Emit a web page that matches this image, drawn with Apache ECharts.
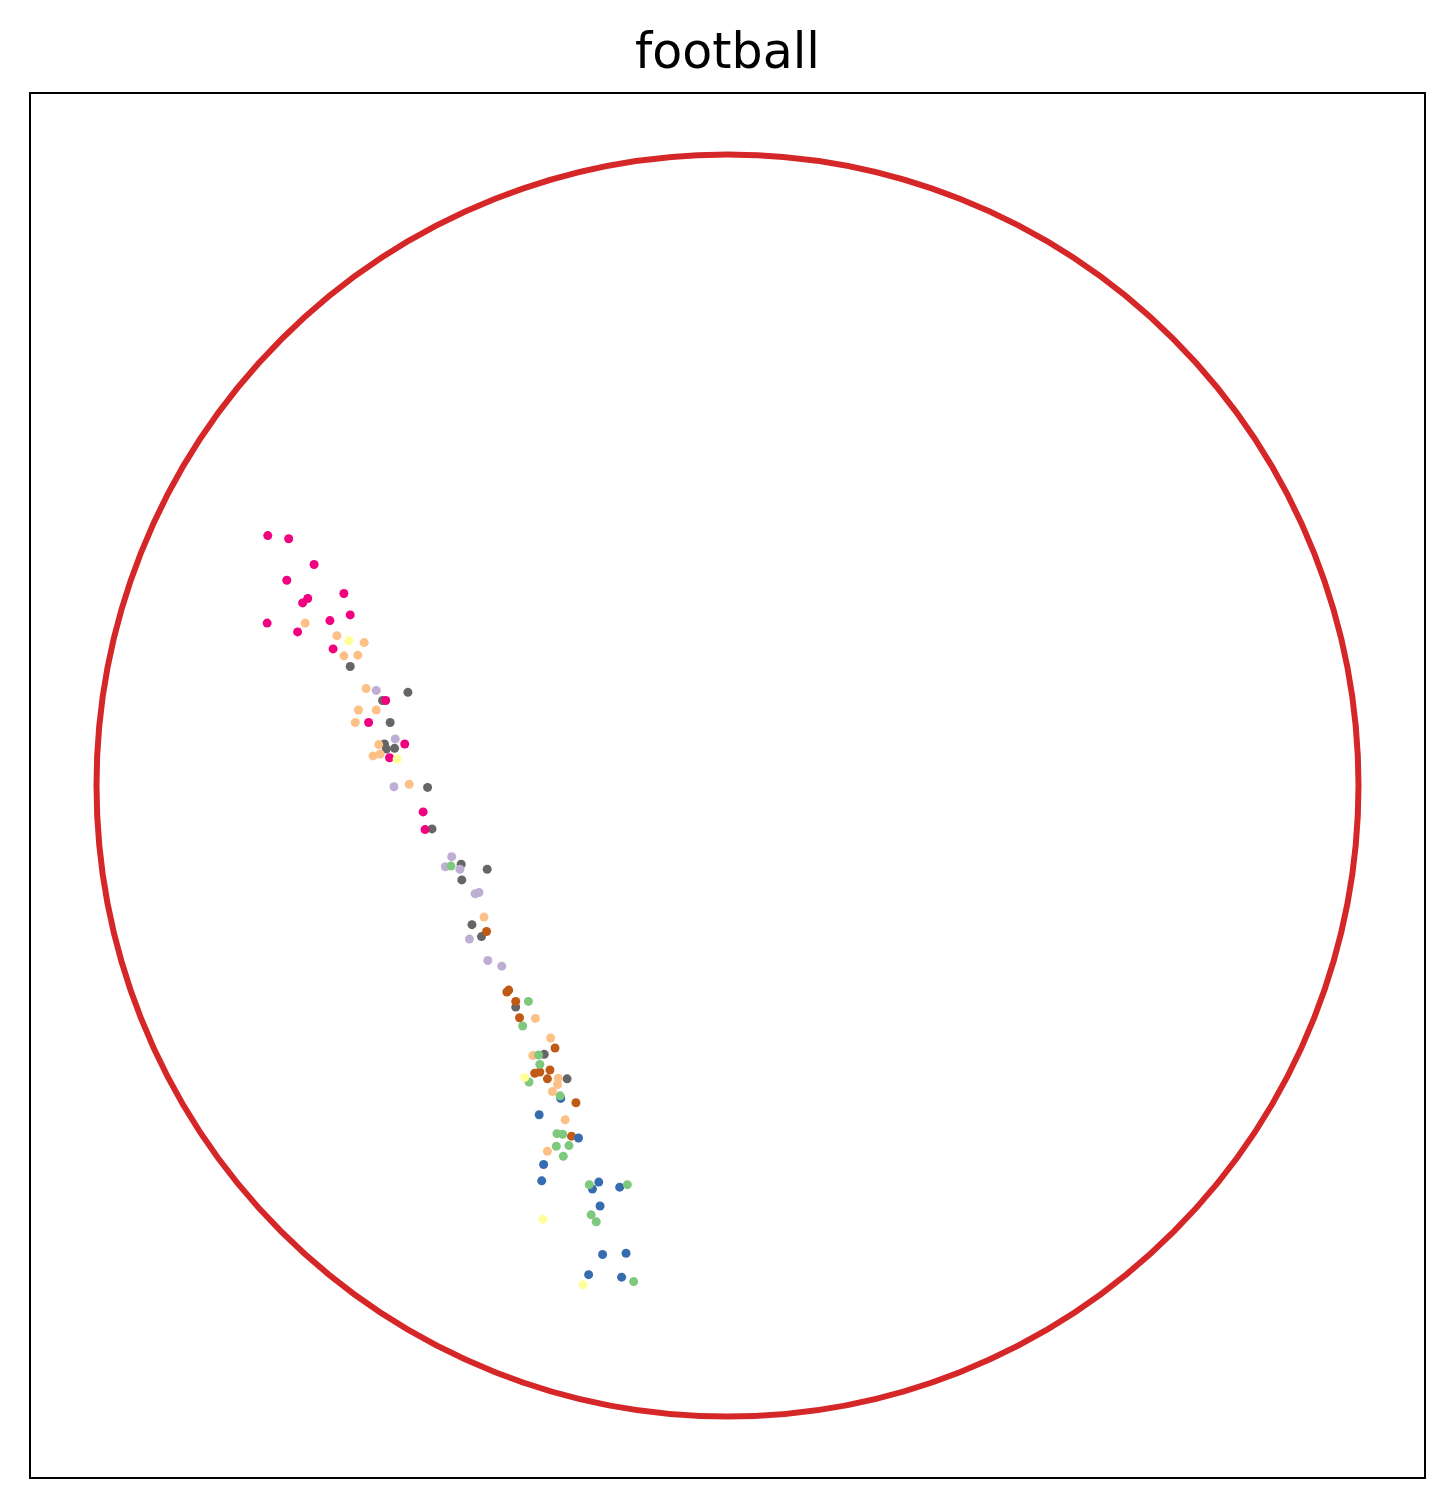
<!DOCTYPE html>
<html>
<head>
<meta charset="utf-8">
<title>football</title>
<script src="https://cdn.jsdelivr.net/npm/echarts@6/dist/echarts.min.js"></script>
<style>
  html, body { margin: 0; padding: 0; background: #fff; }
  #chart { width: 1455px; height: 1509px; }
</style>
</head>
<body>
<div id="chart"></div>
<script>
// node positions inside the unit disk, one list per community
var grayPts = [
  [-0.595, 0.189], [-0.504, 0.148], [-0.544, 0.135], [-0.532, 0.100], [-0.541, 0.066],
  [-0.538, 0.058], [-0.525, 0.059], [-0.473, -0.003], [-0.466, -0.069], [-0.420, -0.125],
  [-0.379, -0.133], [-0.419, -0.150], [-0.403, -0.221], [-0.388, -0.240], [-0.334, -0.352],
  [-0.289, -0.427], [-0.253, -0.466]
];
var lavenderPts = [
  [-0.554, 0.151], [-0.524, 0.074], [-0.526, -0.002], [-0.435, -0.113], [-0.445, -0.129],
  [-0.422, -0.133], [-0.398, -0.172], [-0.392, -0.170], [-0.407, -0.244], [-0.378, -0.278],
  [-0.356, -0.287]
];
var brownPts = [
  [-0.380, -0.232], [-0.348, -0.328], [-0.345, -0.325], [-0.334, -0.343], [-0.328, -0.369],
  [-0.272, -0.417], [-0.280, -0.452], [-0.304, -0.457], [-0.296, -0.455], [-0.284, -0.466],
  [-0.239, -0.504], [-0.246, -0.557]
];
var bluePts = [
  [-0.263, -0.497], [-0.297, -0.523], [-0.235, -0.560], [-0.290, -0.602], [-0.293, -0.628],
  [-0.203, -0.630], [-0.213, -0.641], [-0.170, -0.638], [-0.201, -0.668], [-0.197, -0.745],
  [-0.160, -0.743], [-0.219, -0.777], [-0.167, -0.781]
];
var orangePts = [
  [-0.666, 0.258], [-0.616, 0.238], [-0.573, 0.227], [-0.605, 0.206], [-0.583, 0.207],
  [-0.570, 0.154], [-0.582, 0.120], [-0.554, 0.120], [-0.587, 0.100], [-0.550, 0.065],
  [-0.559, 0.047], [-0.548, 0.050], [-0.502, 0.002], [-0.384, -0.209], [-0.303, -0.370],
  [-0.279, -0.401], [-0.307, -0.429], [-0.267, -0.465], [-0.268, -0.475], [-0.276, -0.486],
  [-0.256, -0.531], [-0.284, -0.581]
];
var pinkPts = [
  [-0.725, 0.397], [-0.692, 0.392], [-0.652, 0.351], [-0.695, 0.326], [-0.605, 0.305],
  [-0.662, 0.297], [-0.670, 0.290], [-0.595, 0.271], [-0.726, 0.258], [-0.627, 0.262],
  [-0.678, 0.244], [-0.622, 0.217], [-0.539, 0.135], [-0.566, 0.100], [-0.509, 0.066],
  [-0.533, 0.044], [-0.480, -0.042], [-0.477, -0.070]
];
var greenPts = [
  [-0.436, -0.128], [-0.314, -0.343], [-0.323, -0.382], [-0.298, -0.428], [-0.296, -0.443],
  [-0.313, -0.471], [-0.264, -0.493], [-0.269, -0.553], [-0.260, -0.554], [-0.270, -0.573],
  [-0.250, -0.572], [-0.259, -0.589], [-0.218, -0.634], [-0.158, -0.634], [-0.215, -0.682],
  [-0.207, -0.693], [-0.148, -0.788]
];
var yellowPts = [
  [-0.597, 0.230], [-0.521, 0.042], [-0.320, -0.464], [-0.291, -0.689], [-0.228, -0.793]
];

var groups = [
  { name: 'c7', color: '#666666', data: grayPts },
  { name: 'c1', color: '#beaed4', data: lavenderPts },
  { name: 'c6', color: '#bf5b17', data: brownPts },
  { name: 'c4', color: '#386cb0', data: bluePts },
  { name: 'c2', color: '#fdc086', data: orangePts },
  { name: 'c5', color: '#f0027f', data: pinkPts },
  { name: 'c0', color: '#7fc97f', data: greenPts },
  { name: 'c3', color: '#ffff99', data: yellowPts }
];

var chart = echarts.init(document.getElementById('chart'));

var series = groups.map(function (g) {
  return {
    name: g.name,
    type: 'scatter',
    data: g.data,
    symbolSize: 9,
    itemStyle: { color: g.color, opacity: 1 },
    emphasis: { disabled: true },
    silent: true
  };
});

chart.setOption({
  animation: false,
  backgroundColor: '#ffffff',
  title: {
    text: 'football',
    left: 'center',
    top: 26,
    textStyle: { fontFamily: 'DejaVu Sans', fontSize: 49, fontWeight: 'normal', color: '#000' }
  },
  grid: {
    left: 30, right: 30, top: 93, bottom: 31,
    show: true, borderColor: '#000', borderWidth: 2, backgroundColor: 'transparent'
  },
  // boundary of the disk: the polar axis ring, radius 1 in data units
  polar: { center: [727.5, 785.5], radius: 631 },
  angleAxis: {
    type: 'value', min: 0, max: 360,
    axisLine: { show: true, lineStyle: { color: '#d62728', width: 6 } },
    axisTick: { show: false }, axisLabel: { show: false }, splitLine: { show: false }
  },
  radiusAxis: {
    type: 'value', min: 0, max: 1,
    axisLine: { show: false }, axisTick: { show: false },
    axisLabel: { show: false }, splitLine: { show: false }
  },
  xAxis: {
    type: 'value', min: -1.1, max: 1.1,
    axisLine: { show: false }, axisTick: { show: false },
    axisLabel: { show: false }, splitLine: { show: false }
  },
  yAxis: {
    type: 'value', min: -1.1, max: 1.1,
    axisLine: { show: false }, axisTick: { show: false },
    axisLabel: { show: false }, splitLine: { show: false }
  },
  series: series
});
</script>
</body>
</html>
